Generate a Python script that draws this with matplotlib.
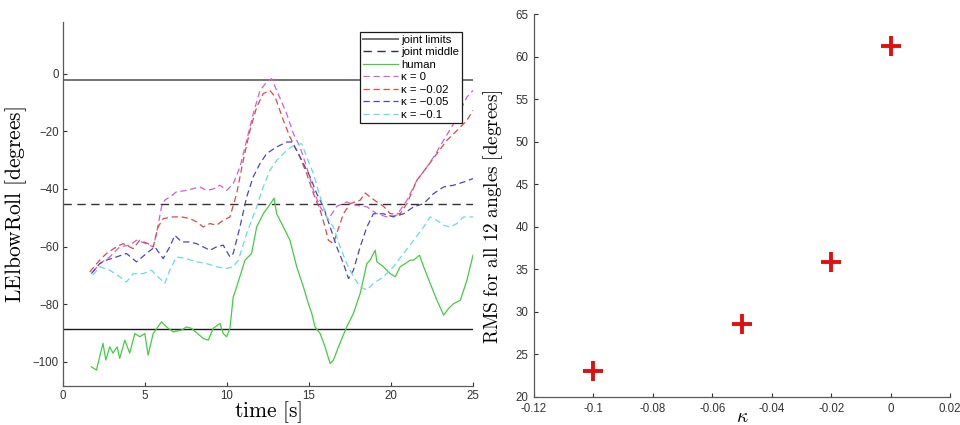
import numpy as np
import matplotlib
matplotlib.use("Agg")
import matplotlib.pyplot as plt

plt.rcParams['font.family'] = ['Liberation Sans', 'DejaVu Sans']
plt.rcParams['mathtext.fontset'] = 'cm'

# joint limits of LElbowRoll [deg]
joint_lo = -88.5
joint_hi = -2.0
joint_mid = -45.25

# human demonstration
t_human = [1.73, 2.04, 2.44, 2.61, 2.85, 3.05, 3.30, 3.46, 3.77, 4.07, 4.38, 4.68, 4.99, 5.19, 5.50,
           6.01, 6.31, 6.72, 7.23, 7.53, 7.84, 8.55, 8.86, 9.16, 9.57, 9.77, 9.98, 10.18, 10.38, 10.59,
           11.10, 11.50, 11.81, 12.21, 12.52, 12.72, 12.87, 13.03, 13.44, 13.84, 14.25, 14.66, 14.96,
           15.17, 15.37, 15.68, 15.98, 16.29, 16.49, 16.80, 17.30, 17.71, 18.12, 18.53, 18.73, 18.93,
           19.04, 19.14, 19.54, 19.95, 20.26, 20.56, 20.87, 21.17, 21.38, 21.74, 21.99, 22.39, 22.80,
           23.21, 23.51, 23.82, 24.23, 24.63, 25.0]
v_human = [-101.7, -102.9, -93.6, -99.4, -94.8, -97.0, -94.8, -98.8, -92.5, -97.0, -90.2, -91.3, -90.2,
           -97.7, -90.2, -86.1, -87.9, -89.6, -89.0, -87.9, -88.4, -91.9, -92.5, -88.4, -86.7, -90.2,
           -91.3, -88.4, -77.5, -74.0, -64.7, -62.4, -53.2, -48.6, -46.2, -44.5, -43.2, -48.6, -53.2,
           -57.8, -67.0, -74.0, -79.8, -83.2, -87.9, -90.2, -94.8, -100.6, -99.4, -94.8, -87.9, -83.2,
           -76.3, -65.9, -64.7, -62.4, -61.3, -65.3, -67.0, -69.4, -70.5, -67.0, -65.9, -64.7, -64.7,
           -63.0, -67.0, -72.8, -78.6, -83.8, -81.5, -79.8, -78.6, -71.7, -63.0]

# robot, kappa = 0
t_k0 = [1.83, 2.24, 2.85, 3.46, 4.07, 4.48, 5.09, 5.50, 5.70, 6.01, 6.21, 6.51, 6.92, 7.53, 8.35, 8.75,
        9.16, 9.57, 9.98, 10.38, 10.79, 11.20, 11.60, 12.01, 12.42, 12.72, 13.03, 13.64, 14.05, 14.45,
        14.86, 15.27, 15.68, 16.18, 16.70, 17.30, 17.71, 18.53, 19.14, 19.75, 20.36, 20.97, 21.58,
        22.19, 22.60, 23.21, 23.82, 24.23, 24.63, 25.0]
v_k0 = [-68.8, -65.9, -63.6, -60.1, -59.5, -57.8, -59.0, -60.1, -55.5, -46.2, -43.9, -42.8, -41.0, -40.5,
        -39.3, -40.5, -40.0, -38.7, -40.5, -38.2, -32.4, -23.1, -13.9, -5.8, -2.9, -1.7, -5.8, -13.9,
        -20.8, -25.4, -32.4, -40.5, -46.2, -50.5, -46.0, -44.5, -45.5, -46.2, -48.6, -49.7, -49.1,
        -43.9, -37.0, -32.4, -28.9, -23.1, -17.3, -12.7, -8.1, -5.8]

# robot, kappa = -0.02
t_k002 = [1.63, 2.24, 2.65, 3.26, 3.66, 4.28, 4.68, 5.19, 5.50, 5.80, 6.11, 6.72, 7.23, 7.74, 8.14, 8.55,
          8.96, 9.36, 9.77, 10.18, 10.59, 10.99, 11.40, 11.81, 12.21, 12.62, 12.93, 13.44, 13.84, 14.45,
          14.86, 15.27, 15.68, 15.98, 16.18, 16.49, 16.69, 17.10, 17.51, 18.12, 18.42, 18.73, 19.14,
          19.54, 19.95, 20.56, 20.97, 21.58, 22.19, 22.80, 23.41, 24.02, 24.63, 25.0]
v_k002 = [-68.8, -64.7, -62.4, -60.1, -59.0, -60.7, -57.8, -59.0, -60.1, -53.2, -50.3, -49.7, -49.7,
          -50.3, -51.4, -53.2, -52.0, -52.6, -50.9, -49.7, -41.6, -30.1, -19.7, -11.6, -6.9, -5.8, -8.0,
          -16.2, -22.0, -28.9, -34.7, -41.6, -47.4, -53.2, -57.8, -59.0, -55.5, -48.6, -45.1, -43.9,
          -41.4, -42.8, -44.5, -46.0, -48.6, -48.6, -45.1, -37.0, -32.4, -27.7, -23.1, -19.7, -16.2, -12.7]

# robot, kappa = -0.05
t_k005 = [1.73, 2.24, 2.65, 3.26, 3.87, 4.48, 5.09, 5.60, 6.11, 6.51, 6.82, 7.23, 7.74, 8.14, 8.55, 8.96,
          9.36, 9.77, 10.18, 10.38, 10.79, 11.20, 11.60, 12.01, 12.42, 13.03, 13.64, 13.95, 14.25, 14.66,
          15.07, 15.47, 15.88, 16.29, 16.69, 17.10, 17.41, 17.71, 18.12, 18.53, 18.93, 19.54, 20.15,
          20.77, 21.38, 21.99, 22.60, 23.21, 23.82, 24.43, 25.0]
v_k005 = [-69.4, -65.9, -64.7, -63.6, -62.4, -65.3, -62.4, -60.1, -64.2, -60.1, -56.1, -58.4, -58.4,
          -59.0, -60.1, -61.3, -60.1, -59.5, -63.6, -62.4, -53.2, -42.8, -35.8, -31.2, -27.7, -25.4,
          -23.7, -23.7, -26.6, -31.2, -35.8, -41.6, -46.2, -53.2, -60.1, -65.9, -71.1, -68.2, -60.1,
          -53.2, -48.6, -48.6, -49.7, -48.6, -46.2, -45.1, -41.6, -39.3, -38.7, -37.6, -36.4]

# robot, kappa = -0.1
t_k01 = [1.83, 2.24, 2.85, 3.46, 3.87, 4.28, 4.89, 5.39, 5.90, 6.21, 6.51, 6.92, 7.53, 8.14, 8.75, 9.36,
         9.98, 10.38, 10.69, 11.20, 11.81, 12.21, 12.62, 13.03, 13.64, 14.05, 14.56, 14.86, 15.27, 15.68,
         16.08, 16.49, 16.90, 17.30, 17.71, 18.12, 18.53, 18.93, 19.54, 20.15, 20.77, 21.38, 21.99,
         22.39, 22.80, 23.21, 23.61, 24.02, 24.43, 25.0]
v_k01 = [-69.9, -67.0, -68.2, -70.5, -72.3, -69.4, -69.4, -68.2, -71.1, -72.8, -68.2, -63.6, -64.2, -65.3,
         -65.9, -67.0, -67.6, -67.0, -64.7, -55.5, -46.2, -39.3, -33.5, -30.1, -26.6, -24.9, -24.3, -28.9,
         -34.7, -42.8, -49.7, -53.2, -60.1, -65.9, -70.5, -74.0, -75.1, -72.8, -70.5, -67.0, -62.4,
         -57.8, -53.2, -49.7, -50.9, -52.6, -53.2, -52.0, -49.7, -49.7]

# RMS error vs kappa
kappa = [-0.1, -0.05, -0.02, 0.0]
rms = [23.0, 28.6, 35.9, 61.2]

fig = plt.figure(figsize=(9.6, 4.25), dpi=100)
ax1 = fig.add_axes([0.0656, 0.0918, 0.4271, 0.856])
ax2 = fig.add_axes([0.5563, 0.0659, 0.4333, 0.901])

dash = (5, 3)
ax1.axhline(joint_hi, color='0.45', lw=1.4, label='joint limits')
ax1.axhline(joint_lo, color='0.1', lw=1.0)
ax1.axhline(joint_mid, color='0.2', lw=1.0, dashes=(6, 4), label='joint middle')
ax1.plot(t_human, v_human, color='#44cc44', lw=0.9, label='human')
ax1.plot(t_k0, v_k0, color='#d060d8', lw=0.9, dashes=dash, label=r'κ = 0')
ax1.plot(t_k002, v_k002, color='#e04848', lw=0.9, dashes=dash, label='κ = −0.02')
ax1.plot(t_k005, v_k005, color='#4848b8', lw=0.9, dashes=dash, label='κ = −0.05')
ax1.plot(t_k01, v_k01, color='#66dde0', lw=0.9, dashes=dash, label='κ = −0.1')

ax1.set_xlim(0, 25)
ax1.set_ylim(-108.4, 17.9)
ax1.set_xticks([0, 5, 10, 15, 20, 25])
ax1.set_yticks([-100, -80, -60, -40, -20, 0])
ax1.set_xlabel(r'$\mathrm{time\ [s]}$', fontsize=15.5, labelpad=-2)
ax1.set_ylabel(r'$\mathrm{LElbowRoll\ [degrees]}$', fontsize=15.5, labelpad=3)
leg = ax1.legend(loc='upper right', bbox_to_anchor=(0.988, 0.99), fontsize=8.2,
                 handlelength=3.0, labelspacing=0.22, borderpad=0.3, handletextpad=0.3,
                 fancybox=False, framealpha=1)
leg.get_frame().set_edgecolor('0.1')
leg.get_frame().set_linewidth(0.9)

ax2.plot(kappa, rms, '+', color='#e01010', ms=15, mew=2.8)
ax2.set_xlim(-0.12, 0.02)
ax2.set_ylim(20, 65)
ax2.set_xticks([-0.12, -0.1, -0.08, -0.06, -0.04, -0.02, 0, 0.02])
ax2.set_xticklabels(['-0.12', '-0.1', '-0.08', '-0.06', '-0.04', '-0.02', '0', '0.02'])
ax2.set_yticks(np.arange(20, 66, 5))
ax2.set_xlabel(r'$\kappa$', fontsize=14)
ax2.xaxis.set_label_coords(0.5, -0.032)
ax2.set_ylabel(r'$\mathrm{RMS\ for\ all\ 12\ angles\ [degrees]}$', fontsize=13.8)
ax2.yaxis.set_label_coords(-0.07, 0.47)

for ax in (ax1, ax2):
    ax.spines['top'].set_visible(False)
    ax.spines['right'].set_visible(False)
    for s in ('left', 'bottom'):
        ax.spines[s].set_color('0.35')
        ax.spines[s].set_linewidth(0.9)
    ax.tick_params(direction='in', length=3, labelsize=8.3, colors='0.2', pad=3)
ax2.tick_params(axis='x', pad=4)
ax2.tick_params(axis='y', pad=4)

fig.savefig('out.png', dpi=100)
